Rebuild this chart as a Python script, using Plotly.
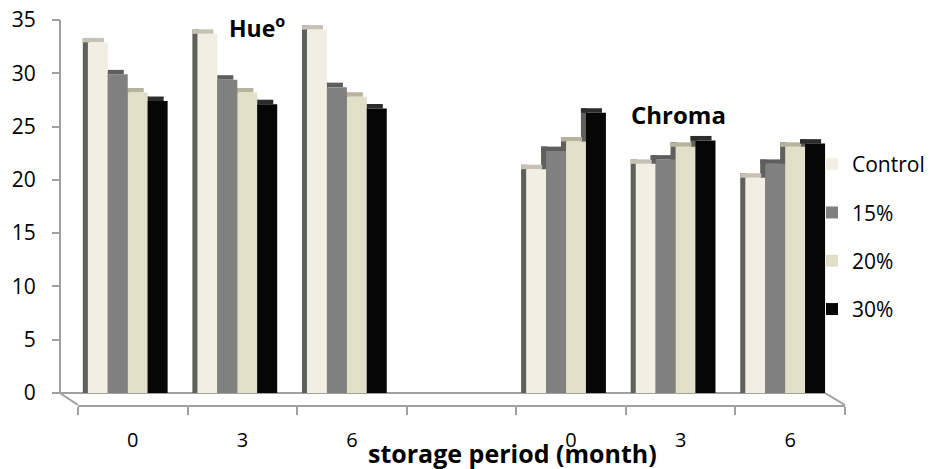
import plotly.graph_objects as go

# ---- data ----
positions = [0, 1, 2, 3, 4, 5, 6]
tick_labels = ["0", "3", "6", "", "0", "3", "6"]
series_names = ["Control", "15%", "20%", "30%"]
control = [32.9, 33.7, 34.1, None, 21.0, 21.5, 20.2]
p15 = [29.9, 29.4, 28.7, None, 22.7, 21.9, 21.5]
p20 = [28.2, 28.2, 27.8, None, 23.6, 23.1, 23.1]
p30 = [27.4, 27.1, 26.7, None, 26.3, 23.7, 23.4]
series_values = [control, p15, p20, p30]

# ---- styles ----
front_colors = ["#f1efe4", "#808080", "#e2dfc8", "#060606"]
top_colors = ["#c4c2b5", "#5e5e5e", "#b6b39c", "#2c2c2c"]
side_color = "#5f5f5b"
axis_color = "#a0a0a0"
FONT = "Open Sans"

bar_w = 0.182
group_left = -0.41
depth_x = 0.046   # 3D depth shift (x units)
depth_y = 0.42    # 3D depth shift (y units)

fig = go.Figure()

# side faces
for i, vals in enumerate(series_values):
    off = group_left + i * bar_w
    fig.add_trace(go.Bar(
        x=positions, y=[None if v is None else v + depth_y for v in vals],
        offset=off - depth_x, width=depth_x + 0.01,
        marker=dict(color=side_color, line=dict(width=0)),
        showlegend=False, hoverinfo="skip"))
# top faces
for i, vals in enumerate(series_values):
    off = group_left + i * bar_w
    fig.add_trace(go.Bar(
        x=positions, y=[None if v is None else depth_y for v in vals], base=vals,
        offset=off - depth_x, width=bar_w + 0.01,
        marker=dict(color=top_colors[i], line=dict(width=0)),
        showlegend=False, hoverinfo="skip"))
# front faces
for i, (name, vals) in enumerate(zip(series_names, series_values)):
    off = group_left + i * bar_w
    fig.add_trace(go.Bar(
        x=positions, y=vals, name=name, legendgroup=name,
        offset=off, width=bar_w,
        marker=dict(color=front_colors[i], line=dict(width=0))))

W_left, W_right = 60, 845
Wp = W_right - W_left
dom0 = (78 - W_left) / Wp
back_right = (825 - W_left) / Wp
ybot = -1.126

shapes = [
    dict(type="line", xref="paper", yref="y", x0=0, x1=0, y0=0, y1=35,
         line=dict(color=axis_color, width=2), layer="below"),
    dict(type="line", xref="paper", yref="y", x0=0, x1=back_right, y0=0, y1=0,
         line=dict(color=axis_color, width=2), layer="below"),
    dict(type="line", xref="paper", yref="y", x0=0, x1=dom0, y0=0, y1=ybot,
         line=dict(color=axis_color, width=2), layer="below"),
    dict(type="line", xref="paper", yref="y", x0=back_right, x1=1, y0=0, y1=ybot,
         line=dict(color=axis_color, width=2), layer="below"),
]

fig.update_layout(
    width=935, height=469,
    margin=dict(l=W_left, r=935 - W_right, t=20, b=64, autoexpand=False),
    paper_bgcolor="white", plot_bgcolor="white",
    barmode="overlay",
    font=dict(family=FONT, size=19, color="#000000"),
    shapes=shapes,
    xaxis=dict(domain=[dom0, 1], range=[-0.5, 6.5], automargin=False,
               tickvals=positions, ticktext=tick_labels, ticks="",
               ticklabelstandoff=16,
               showline=True, linecolor=axis_color, linewidth=2,
               showgrid=False, zeroline=False,
               minor=dict(tickvals=[p - 0.5 for p in positions] + [6.5],
                          ticks="outside", ticklen=8, tickcolor=axis_color, tickwidth=2),
               tickfont=dict(size=20)),
    yaxis=dict(range=[ybot, 35], anchor="free", position=0, automargin=False,
               tickvals=[0, 5, 10, 15, 20, 25, 30, 35],
               ticks="outside", ticklen=8, tickcolor=axis_color, tickwidth=2,
               ticklabelstandoff=12,
               showline=False, showgrid=False, zeroline=False,
               tickfont=dict(size=21)),
    legend=dict(x=(812 - W_left) / Wp, xanchor="left", y=(405 - 144) / 385, yanchor="top",
                font=dict(size=21), tracegroupgap=18, bgcolor="rgba(0,0,0,0)"),
    annotations=[
        dict(text="<b>Hue<sup>o</sup></b>", xref="paper", yref="paper",
             x=(257 - W_left) / Wp, y=(405 - 27) / 385, showarrow=False,
             font=dict(size=23), xanchor="center", yanchor="middle"),
        dict(text="<b>Chroma</b>", xref="paper", yref="paper",
             x=(678 - W_left) / Wp, y=(405 - 115) / 385, showarrow=False,
             font=dict(size=24), xanchor="center", yanchor="middle"),
        dict(text="<b>storage period (month)</b>", xref="paper", yref="paper",
             x=(512 - W_left) / Wp, y=(405 - 453) / 385, showarrow=False,
             font=dict(size=25), xanchor="center", yanchor="middle"),
    ],
)

fig.write_html("out.html", config={"displayModeBar": False},
               post_script="document.body.style.margin='0';")
